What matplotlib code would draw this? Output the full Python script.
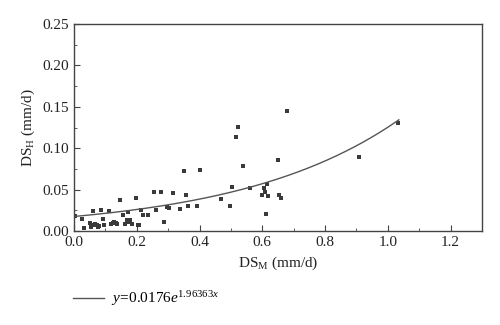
import numpy as np
import matplotlib.pyplot as plt
from matplotlib.ticker import MultipleLocator

plt.rcParams['font.family'] = ['Liberation Serif', 'DejaVu Serif']
plt.rcParams['mathtext.fontset'] = 'custom'
plt.rcParams['mathtext.rm'] = 'Liberation Serif'
plt.rcParams['mathtext.it'] = 'Liberation Serif:italic'

ds_m = [0.003, 0.027, 0.033, 0.051, 0.054, 0.062, 0.064, 0.068, 0.072, 0.077,
        0.081, 0.085, 0.091, 0.094, 0.113, 0.118, 0.124, 0.129, 0.133, 0.138,
        0.146, 0.157, 0.163, 0.168, 0.171, 0.174, 0.179, 0.184, 0.197, 0.205,
        0.207, 0.214, 0.221, 0.237, 0.255, 0.262, 0.276, 0.287, 0.297, 0.304,
        0.317, 0.339, 0.351, 0.356, 0.364, 0.392, 0.400, 0.469, 0.498, 0.504,
        0.517, 0.524, 0.538, 0.560, 0.599, 0.604, 0.610, 0.612, 0.615, 0.619,
        0.650, 0.654, 0.660, 0.678, 0.907, 1.032]
ds_h = [0.018, 0.0145, 0.004, 0.010, 0.005, 0.024, 0.007, 0.008, 0.007, 0.005,
        0.006, 0.026, 0.0145, 0.007, 0.024, 0.009, 0.010, 0.011, 0.010, 0.008,
        0.0375, 0.0197, 0.008, 0.013, 0.023, 0.011, 0.013, 0.008, 0.0395, 0.007,
        0.007, 0.025, 0.0195, 0.0195, 0.0467, 0.025, 0.0467, 0.0105, 0.0285, 0.028,
        0.0455, 0.0266, 0.0725, 0.0439, 0.030, 0.0306, 0.0737, 0.039, 0.0298, 0.0527,
        0.113, 0.1256, 0.0785, 0.0515, 0.0435, 0.0523, 0.0467, 0.0205, 0.057, 0.0426,
        0.0857, 0.0437, 0.0403, 0.145, 0.089, 0.130]

fit_a = 0.0176
fit_b = 1.96363
fit_x = np.linspace(0, 1.035, 200)
fit_y = fit_a * np.exp(fit_b * fit_x)

fig = plt.figure(figsize=(5, 3.25), dpi=100)
ax = fig.add_axes([0.148, 0.289, 0.816, 0.637])

ax.plot(ds_m, ds_h, 's', color='#3a3a3a', markersize=2.5, markeredgewidth=0)
fitline, = ax.plot(fit_x, fit_y, color='#555555', lw=1.0)

ax.set_xlim(0, 1.3)
ax.set_ylim(0, 0.25)
ax.xaxis.set_major_locator(MultipleLocator(0.2))
ax.xaxis.set_minor_locator(MultipleLocator(0.1))
ax.yaxis.set_major_locator(MultipleLocator(0.05))
ax.yaxis.set_minor_locator(MultipleLocator(0.025))
ax.tick_params(which='both', direction='in', colors='#444444', labelcolor='#222222',
               labelsize=11)
ax.tick_params(which='major', length=4)
ax.tick_params(which='minor', length=2.5)
ax.xaxis.set_major_formatter(plt.FuncFormatter(lambda v, p: f'{v:.1f}'))
ax.yaxis.set_major_formatter(plt.FuncFormatter(lambda v, p: f'{v:.2f}'))
for s in ax.spines.values():
    s.set_color('#444444')
    s.set_linewidth(1.0)

ax.set_xlabel('DS$_\\mathrm{M}$ (mm/d)', fontsize=11, color='#222222', labelpad=4)
ax.set_ylabel('DS$_\\mathrm{H}$ (mm/d)', fontsize=11, color='#222222', labelpad=4)

fig.legend([fitline], ['$\\mathit{y}\\!=\\!0.0176\\mathit{e}^{1.96363\\mathit{x}}$'],
           loc='center left', bbox_to_anchor=(0.119, 0.08), frameon=False,
           fontsize=11, handlelength=2.0, handletextpad=0.5)

fig.savefig('out.png', dpi=100)
